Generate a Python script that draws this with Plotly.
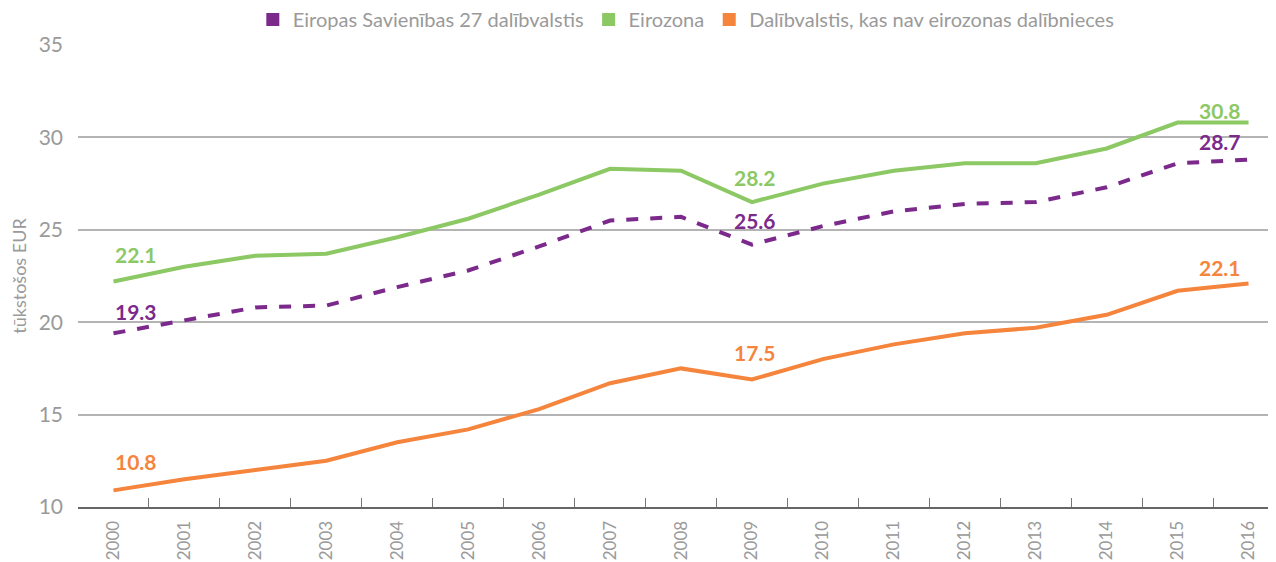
import plotly.graph_objects as go

years = [str(y) for y in range(2000, 2017)]

eu27 = [19.4, 20.1, 20.8, 20.9, 21.9, 22.8, 24.1, 25.5, 25.7, 24.2, 25.2, 26.0, 26.4, 26.5, 27.3, 28.6, 28.8]
euro_area = [22.2, 23.0, 23.6, 23.7, 24.6, 25.6, 26.9, 28.3, 28.2, 26.5, 27.5, 28.2, 28.6, 28.6, 29.4, 30.8, 30.8]
non_euro = [10.9, 11.5, 12.0, 12.5, 13.5, 14.2, 15.3, 16.7, 17.5, 16.9, 18.0, 18.8, 19.4, 19.7, 20.4, 21.7, 22.1]

names = ["Eiropas Savienības 27 dalībvalstis", "Eirozona", "Dalībvalstis, kas nav eirozonas dalībnieces"]
colors = ["#7b2a8c", "#8cc864", "#f5843c"]

label_years = ["2000", "2009", "2016"]
eu27_labels = ["19.3", "25.6", "28.7"]
euro_labels = ["22.1", "28.2", "30.8"]
non_euro_labels = ["10.8", "17.5", "22.1"]

FONT = "Lato"
GREY = "#9a9a9a"

fig = go.Figure()

series = [eu27, euro_area, non_euro]
dashes = ["dash", "solid", "solid"]
for vals, name, col, dash in zip(series, names, colors, dashes):
    fig.add_trace(go.Scatter(
        x=years, y=vals, mode="lines", name=name, showlegend=False,
        line=dict(color=col, width=4, dash=dash),
        hoverinfo="x+y"
    ))

# square legend markers
for name, col in zip(names, colors):
    fig.add_trace(go.Scatter(
        x=[None], y=[None], mode="markers", name=name,
        marker=dict(symbol="square", size=13, color=col)
    ))

# value labels (category axis -> use index position)
label_sets = [(eu27, eu27_labels, colors[0], [22, 24, 18]),
              (euro_area, euro_labels, colors[1], [27, 25, 12]),
              (non_euro, non_euro_labels, colors[2], [29, 27, 16])]
for vals, texts, col, shifts in label_sets:
    for yr, txt, sh in zip(label_years, texts, shifts):
        i = years.index(yr)
        if yr == "2000":
            anchor, xs = "left", 0
        elif yr == "2016":
            anchor, xs = "right", -6
        else:
            anchor, xs = "center", 3
        fig.add_annotation(
            x=i, y=vals[i], text="<b>%s</b>" % txt, showarrow=False,
            xanchor=anchor, xshift=xs, yshift=sh,
            font=dict(family=FONT, size=21, color=col)
        )

fig.update_layout(
    width=1276, height=554,
    margin=dict(l=70, r=0, t=37, b=55, autoexpand=False),
    paper_bgcolor="white", plot_bgcolor="white",
    font=dict(family=FONT, color=GREY),
    legend=dict(
        orientation="h", x=0.504, xanchor="center", y=1.055, yanchor="middle",
        font=dict(family=FONT, size=20, color=GREY),
        tracegroupgap=0
    ),
    xaxis=dict(
        type="category", range=[-0.5, 16.5],
        tickangle=-90, tickfont=dict(size=17, color=GREY),
        ticks="inside", tickson="boundaries", ticklen=9, tickcolor="#777",
        ticklabelstandoff=5,
        showgrid=False, showline=True, linecolor="#666", linewidth=2,
        fixedrange=True
    ),
    yaxis=dict(
        range=[10, 35], dtick=5,
        tickfont=dict(size=21, color=GREY),
        showgrid=True, gridcolor="#b4b4b4", gridwidth=1.5,
        zeroline=False, showline=False, ticks="", ticklabelstandoff=14,
        title=dict(text="tūkstošos EUR", font=dict(size=18, color=GREY), standoff=10)
    )
)

fig.write_html("out.html")
